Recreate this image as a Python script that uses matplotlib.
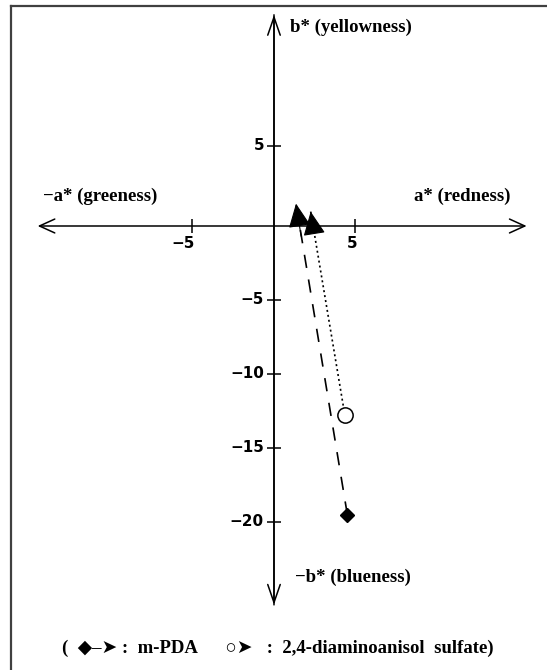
import numpy as np
import matplotlib
matplotlib.use("Agg")
import matplotlib.pyplot as plt
from matplotlib.lines import Line2D

# colour coordinates (a*, b*) before and after dyeing
compounds = ["m-PDA", "2,4-diaminoanisol sulfate"]
a_start = [4.5, 4.35]
b_start = [-19.5, -12.8]
a_end = [1.35, 2.25]
b_end = [1.4, 0.9]

x_ticks = [-5, 5]
y_ticks = [5, -5, -10, -15, -20]

W, H = 547, 670
fig = plt.figure(figsize=(W / 100, H / 100), dpi=100)
ax = fig.add_axes([0, 0, 1, 1])
ax.set_axis_off()

# the original y axis is a little stretched above zero
k = 80 / 74
ax.set_yscale("function", functions=(lambda b: np.where(b > 0, b * k, b),
                                     lambda f: np.where(f > 0, f / k, f)))
ax.set_xlim(-16.81, 16.75)
ax.set_ylim(-30.0, 15.27 / k)

# axes with open arrow heads
ax.annotate("", xy=(15.5, 0), xytext=(-14.5, 0),
            arrowprops=dict(arrowstyle="<->,head_length=11,head_width=5",
                            mutation_scale=1, lw=1.1, color="black",
                            shrinkA=0, shrinkB=0))
ax.annotate("", xy=(0, 13.2), xytext=(0, -25.6),
            arrowprops=dict(arrowstyle="->,head_length=13,head_width=4.5",
                            mutation_scale=1, lw=1.1, color="black",
                            shrinkA=0, shrinkB=0))
ax.annotate("", xy=(0, -25.6), xytext=(0, 13.2),
            arrowprops=dict(arrowstyle="->,head_length=13,head_width=4.5",
                            mutation_scale=1, lw=1.1, color="black",
                            shrinkA=0, shrinkB=0))

# cross ticks
ax.plot(x_ticks, [0] * len(x_ticks), "|", ms=10, mew=1.1, color="black")
ax.plot([0] * len(y_ticks), y_ticks, "_", ms=10, mew=1.1, color="black")

tick_font = dict(family="DejaVu Sans", fontweight="bold", fontsize=11)
for t in x_ticks:
    ax.annotate(f"{t}".replace("-", "\u2212"), xy=(t, 0), xytext=(2, -18),
                textcoords="offset pixels", ha="right", va="center", **tick_font)
for t in y_ticks:
    ax.annotate(f"{t}".replace("-", "\u2212"), xy=(0, t), xytext=(-10, 0),
                textcoords="offset pixels", ha="right", va="center", **tick_font)

lab_font = dict(family=["Liberation Serif", "DejaVu Sans"], fontweight="bold", fontsize=13.5)
fig.text(290 / W, 1 - 27 / H, "b* (yellowness)", ha="left", va="center", **lab_font)
fig.text(43 / W, 1 - 196 / H, "\u2212a* (greeness)", ha="left", va="center", **lab_font)
fig.text(510 / W, 1 - 196 / H, "a* (redness)", ha="right", va="center", **lab_font)
fig.text(295 / W, 1 - 577 / H, "\u2212b* (blueness)", ha="left", va="center", **lab_font)

# shift vectors
styles = [(0, (8, 7)), (0, (1.2, 1.8))]
markers = [dict(marker="D", ms=7.5, mfc="black", mec="black"),
           dict(marker="o", ms=11, mfc="white", mec="black", mew=1.1)]
for i in range(len(compounds)):
    ax.plot([a_start[i], a_end[i]], [b_start[i], b_end[i]], color="black",
            lw=1.2, linestyle=styles[i])
    back = (a_end[i] + 0.1 * (a_start[i] - a_end[i]),
            b_end[i] + 0.1 * (b_start[i] - b_end[i]))
    ax.annotate("", xy=(a_end[i], b_end[i]), xytext=back,
                arrowprops=dict(arrowstyle="-|>,head_length=15,head_width=7",
                                mutation_scale=1, lw=0.8, color="black",
                                shrinkA=0, shrinkB=0))
    ax.plot([a_start[i]], [b_start[i]], color="black", zorder=5, **markers[i])

fig.text(278 / W, 1 - 648 / H,
         "(  \u25c6\u2013\u27a4 :  m-PDA      \u25cb\u27a4   :  2,4-diaminoanisol  sulfate)",
         ha="center", va="center", **lab_font)

# frame lines on top and left
fig.add_artist(Line2D([11 / W, 1], [1 - 5.5 / H, 1 - 5.5 / H], transform=fig.transFigure,
                      color="#404040", lw=1.6))
fig.add_artist(Line2D([11 / W, 11 / W], [0, 1 - 5.5 / H], transform=fig.transFigure,
                      color="#404040", lw=1.6))

fig.savefig("out.png", dpi=100)
